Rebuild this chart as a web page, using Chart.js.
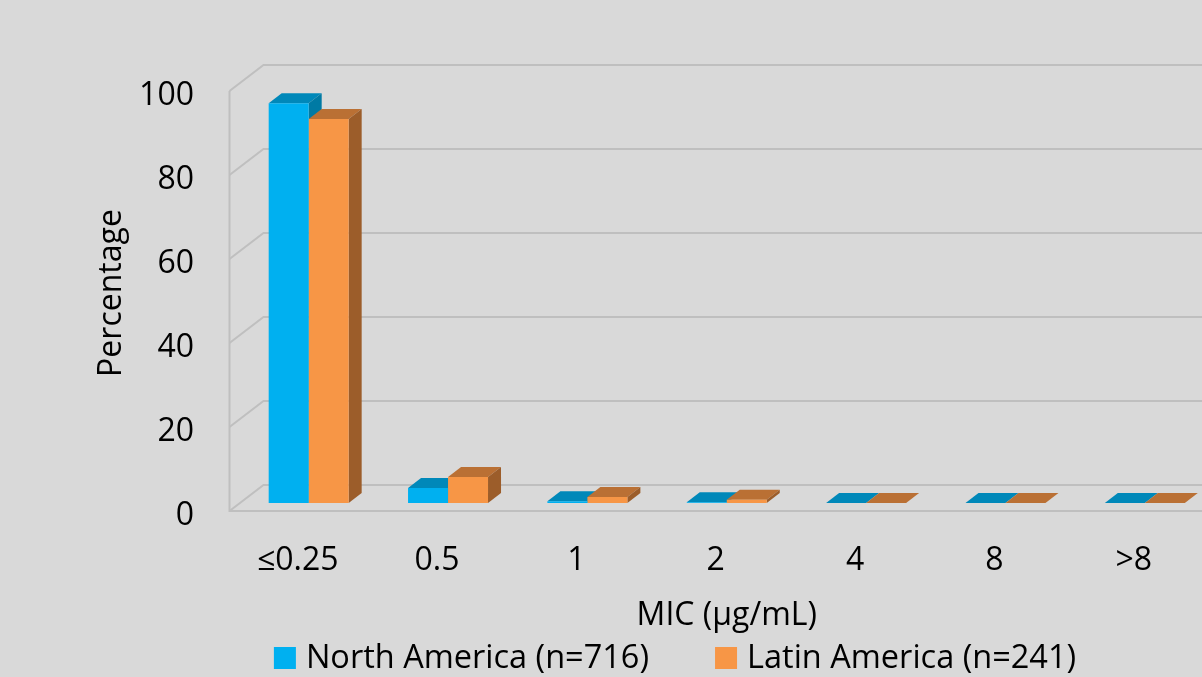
<!DOCTYPE html>
<html>
<head>
<meta charset="utf-8">
<script src="https://cdn.jsdelivr.net/npm/chart.js@4"></script>
<style>
  html, body { margin: 0; padding: 0; background: #d9d9d9; overflow: hidden; }
  #wrap { position: absolute; left: 0; top: 0; width: 1240px; height: 677px; }
</style>
</head>
<body>
<div id="wrap"><canvas id="myChart"></canvas></div>
<script>
const categories = ['≤0.25', '0.5', '1', '2', '4', '8', '>8']
const northAmerica = [95.2, 3.6, 0.4, 0.2, 0, 0, 0]
const latinAmerica = [91.4, 6.2, 1.4, 0.8, 0, 0, 0]
const yTicks = [0, 20, 40, 60, 80, 100]

Chart.defaults.font.family = "'Open Sans', sans-serif"
Chart.defaults.font.size = 32
Chart.defaults.color = '#000'

// offsets of the fake 3d box, relative to the plane the bars stand in
const front = { dx: -9.5, dy: 8 }
const back = { dx: 24.5, dy: -18 }
const depth = { dx: 13, dy: -10 }

const walls3d = {
  id: 'walls3d',
  beforeDatasetsDraw(chart) {
    const { ctx, chartArea, scales: { y } } = chart
    const left = chartArea.left
    const right = chart.width
    ctx.save()
    ctx.strokeStyle = '#bfbfbf'
    ctx.lineWidth = 2
    yTicks.forEach((v) => {
      const py = y.getPixelForValue(v)
      ctx.beginPath()
      ctx.moveTo(left + front.dx, py + front.dy)
      ctx.lineTo(left + back.dx, py + back.dy)
      ctx.lineTo(right, py + back.dy)
      ctx.stroke()
    })
    const y0 = y.getPixelForValue(0)
    const yTop = y.getPixelForValue(100)
    ctx.beginPath()
    ctx.moveTo(left + front.dx, yTop + front.dy)
    ctx.lineTo(left + front.dx, y0 + front.dy)
    ctx.lineTo(right, y0 + front.dy)
    ctx.stroke()

    // tops and right sides of the bars, the fronts are drawn by chart.js
    categories.forEach((c, i) => {
      chart.data.datasets.forEach((ds, d) => {
        const bar = chart.getDatasetMeta(d).data[i]
        const { x, y: top, base, width } = bar.getProps(['x', 'y', 'base', 'width'], true)
        const l = x - width / 2
        const r = x + width / 2
        ctx.fillStyle = ds.topColor
        ctx.beginPath()
        ctx.moveTo(l, top)
        ctx.lineTo(r, top)
        ctx.lineTo(r + depth.dx, top + depth.dy)
        ctx.lineTo(l + depth.dx, top + depth.dy)
        ctx.closePath()
        ctx.fill()
        ctx.fillStyle = ds.sideColor
        ctx.beginPath()
        ctx.moveTo(r, top)
        ctx.lineTo(r + depth.dx, top + depth.dy)
        ctx.lineTo(r + depth.dx, base + depth.dy)
        ctx.lineTo(r, base)
        ctx.closePath()
        ctx.fill()
      })
    })
    ctx.restore()
  }
}

const legendBox = {
  id: 'legendBox',
  afterDraw(chart) {
    const { ctx } = chart
    ctx.save()
    ctx.font = "32.5px 'Open Sans', sans-serif"
    ctx.textBaseline = 'middle'
    const items = chart.data.datasets.map((ds) => ({ ds, w: 32 + ctx.measureText(ds.label).width }))
    const gap = 66
    const total = items.reduce((s, it) => s + it.w, 0) + gap * (items.length - 1)
    let x = 675 - total / 2
    const cy = 658
    items.forEach((it) => {
      ctx.fillStyle = it.ds.backgroundColor
      ctx.fillRect(x, cy - 11, 22, 22)
      ctx.fillStyle = '#000'
      ctx.fillText(it.ds.label, x + 32, cy + 1)
      x += it.w + gap
    })
    ctx.restore()
  }
}

const config = {
  type: 'bar',
  data: {
    labels: categories,
    datasets: [{
      label: 'North America (n=716)',
      data: northAmerica,
      backgroundColor: '#00b0f0',
      topColor: '#0088b9',
      sideColor: '#007aa4',
      borderWidth: 0
    }, {
      label: 'Latin America (n=241)',
      data: latinAmerica,
      backgroundColor: '#f79646',
      topColor: '#ba7034',
      sideColor: '#9c5d2a',
      borderWidth: 0
    }]
  },
  options: {
    responsive: true,
    maintainAspectRatio: false,
    animation: false,
    layout: { padding: { top: 83, right: 25.5, left: 0, bottom: 0 } },
    datasets: { bar: { categoryPercentage: 0.574, barPercentage: 1 } },
    scales: {
      x: {
        grid: { display: false, drawTicks: false },
        border: { display: false },
        ticks: { padding: 39, labelOffset: -11, maxRotation: 0, autoSkip: false },
        title: { display: true, text: 'MIC (μg/mL)', padding: { top: 0, bottom: 42 } },
        afterFit: (s) => { s.height = 174 }
      },
      y: {
        min: 0,
        max: 100,
        grid: { display: false, drawTicks: false },
        border: { display: false },
        ticks: { padding: 45, labelOffset: 13 },
        afterBuildTicks: (s) => { s.ticks = yTicks.map((v) => ({ value: v })) },
        title: { display: true, text: 'Percentage', padding: { top: 93, bottom: 0 } },
        afterFit: (s) => { s.width = 239 }
      }
    },
    plugins: {
      legend: { display: false },
      tooltip: { enabled: false }
    }
  },
  plugins: [walls3d, legendBox]
}

const myChart = new Chart(document.getElementById('myChart'), config)
</script>
</body>
</html>
